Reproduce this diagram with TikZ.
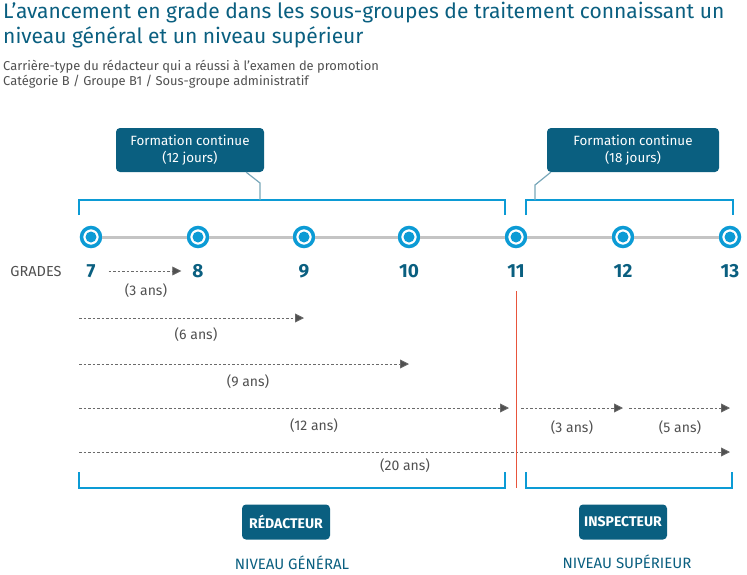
\documentclass[tikz,border=0pt]{standalone}
\usepackage{fontspec}
\setmainfont{Fira Sans}
\usepackage{xcolor}
\usetikzlibrary{arrows.meta,positioning}
\definecolor{petrol}{HTML}{0A5F80}
\definecolor{sky}{HTML}{0C9BD5}
\definecolor{rail}{HTML}{C4C4C4}
\definecolor{slate}{HTML}{505050}
\definecolor{cut}{HTML}{E8553C}
\newcommand{\px}[1]{\fontsize{#1}{1.25\dimexpr#1pt\relax}\selectfont}

\begin{document}
\begin{tikzpicture}[x=1pt,y=-1pt,
  dot/.style={circle, draw=sky, line width=3.5pt, fill=white, minimum size=19pt, inner sep=0,
    path picture={\fill[sky] (path picture bounding box.center) circle (5.5pt);}},
  grade/.style={text=petrol, font=\px{19}\bfseries, inner sep=1pt},
  bracket/.style={draw=sky, line width=2.2pt},
  stub/.style={draw=petrol!55, line width=1.2pt},
  course/.style={fill=petrol, rounded corners=4pt, text=white, font=\px{13.4}, align=center,
    minimum width=148pt, minimum height=44pt, inner sep=0},
  role/.style={fill=petrol, rounded corners=4pt, text=white, font=\px{14}\bfseries,
    minimum width=88pt, minimum height=35pt, inner sep=0},
  span/.style={draw=slate!85, line width=0.8pt, dash pattern=on 2.5pt off 2pt,
    -{Triangle[length=9pt,width=9pt,fill=slate]}},
  years/.style={text=slate, font=\px{14}},
  level/.style={text=petrol, font=\px{15}}]
\useasboundingbox (0,0) rectangle (747,574);
% heading
\node[anchor=north west, align=left, text=petrol, font=\fontsize{21}{25}\selectfont, inner sep=0] (title) at (3,2)
  {L’avancement en grade dans les sous-groupes de traitement connaissant un\\niveau général et un niveau supérieur};
\node[anchor=north west, align=left, text=slate, font=\fontsize{12.9}{15}\selectfont, inner sep=0] (subtitle) at (3,60)
  {Carrière-type du rédacteur qui a réussi à l’examen de promotion\\Catégorie B / Groupe B1 / Sous-groupe administratif};
% timeline
\foreach \g/\x in {7/91,8/198,9/304,10/409,11/516,12/623,13/730} {
  \node[dot] (d\g) at (\x,237) {};
  \node[grade] (g\g) at (\x,271) {\g};
}
\foreach \a/\b in {7/8,8/9,9/10,10/11,11/12,12/13} \draw[rail, line width=3pt] (d\a) -- (d\b);
\node[text=slate, font=\px{14.5}] (grades) at (36,271) {GRADES};
% training periods
\draw[bracket] (79,215) |- (505,200) -- (505,215);
\draw[bracket] (526,215) |- (733,200) -- (733,215);
\node[course] (fc1) at (190,150) {Formation continue\\(12 jours)};
\node[course, minimum width=172pt] (fc2) at (633,150) {Formation continue\\(18 jours)};
\coordinate (s1) at (260,200);
\coordinate (s2) at (535,200);
\draw[stub] (s1) -- ++(0,-17) -- ([xshift=-18pt]fc1.south east);
\draw[stub] (s2) -- ++(0,-15) -- ([xshift=4pt]fc2.south west);
% durations
\coordinate (r2) at (79,318);
\coordinate (r3) at (79,364);
\coordinate (r4) at (79,408);
\coordinate (r5) at (79,452);
\draw[span, shorten <=12pt, shorten >=10pt] (g7) -- (g8);
\draw[span] (r2) -- (d9 |- r2);
\draw[span] (r3) -- (d10 |- r3);
\draw[span, shorten >=7pt] (r4) -- (d11 |- r4);
\draw[span, shorten <=5pt] (d11 |- r4) -- (d12 |- r4);
\draw[span, shorten <=6pt] (d12 |- r4) -- (d13 |- r4);
\draw[span] (r5) -- (d13 |- r5);
\node[years] (y1) at (146,291) {(3 ans)};
\node[years] (y2) at (196,335) {(6 ans)};
\node[years] (y3) at (248,382) {(9 ans)};
\node[years] (y4) at (314,426) {(12 ans)};
\node[years] (y5) at (572,428) {(3 ans)};
\node[years] (y6) at (680,428) {(5 ans)};
\node[years] (y7) at (405,466) {(20 ans)};
% levels
\coordinate (c1) at (516,291);
\coordinate (c2) at (516,488);
\draw[cut, line width=1pt] (c1) -- (c2);
\draw[bracket] (79,472) |- (505,488) -- (505,472);
\draw[bracket] (526,472) |- (732,488) -- (732,472);
\node[role] (redac) at (286,522) {RÉDACTEUR};
\node[role] (insp) at (623,522) {INSPECTEUR};
\node[level] (gen) at (292,563) {NIVEAU GÉNÉRAL};
\node[level] (sup) at (627,562) {NIVEAU SUPÉRIEUR};
\end{tikzpicture}
\end{document}
